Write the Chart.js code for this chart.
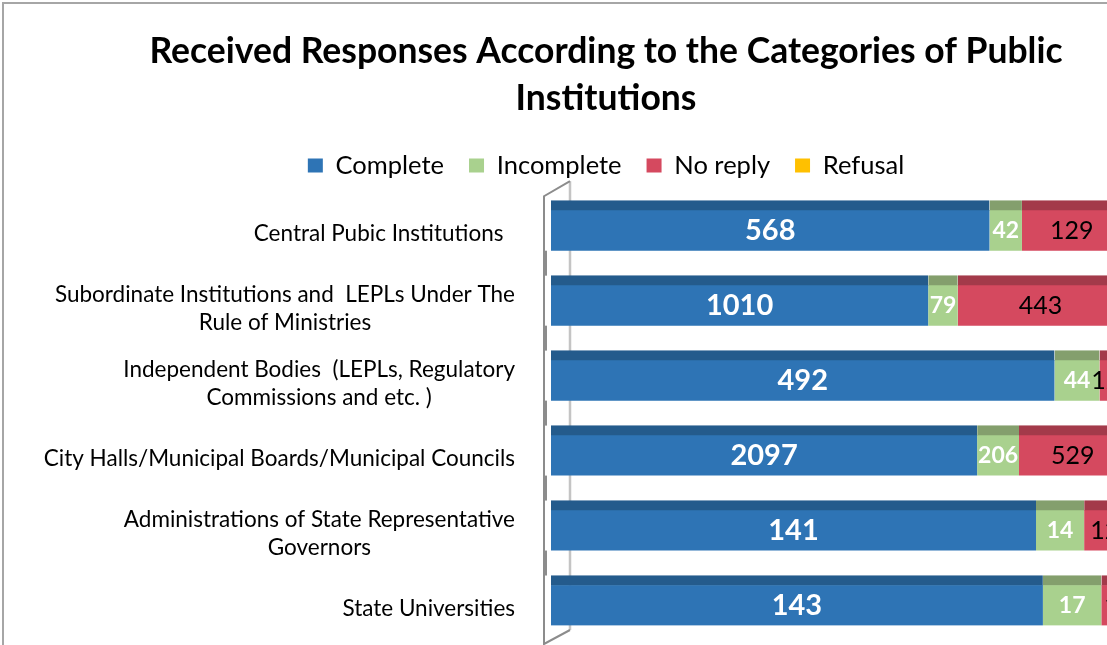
<!DOCTYPE html>
<html>
<head>
<meta charset="utf-8">
<script src="https://cdn.jsdelivr.net/npm/chart.js@4.4.0/dist/chart.umd.min.js"></script>
<style>
  body { margin: 0; overflow: hidden; background: #fff; }
  #box { position: absolute; left: 2px; top: 2px; width: 1225px; height: 700px;
         border: 2px solid #a6a6a6; box-sizing: border-box; background: #fff; }
</style>
</head>
<body>
<div id="box"><canvas id="chart"></canvas></div>
<script>
"use strict";
// categories (each entry = lines of the label)
var categories = [
  ["Central Pubic Institutions  "],
  ["Subordinate Institutions and  LEPLs Under The", "Rule of Ministries"],
  ["Independent Bodies  (LEPLs, Regulatory", "Commissions and etc. )"],
  ["City Halls/Municipal Boards/Municipal Councils"],
  ["Administrations of State Representative", "Governors"],
  ["State Universities"]
];
var seriesNames = ["Complete", "Incomplete", "No reply", "Refusal"];
var complete = [568, 1010, 492, 2097, 141, 143];
var incomplete = [42, 79, 44, 206, 14, 17];
// right part of the chart is cut off in the picture -> estimated
var noReply = [129, 443, 12, 529, 12, 10];
var refusal = [112, 227, 94, 401, 24, 21];

var faceColors = ["#2e74b5", "#a9d18e", "#d5495f", "#ffc000"];
var topColors = ["#245b8c", "#849f6d", "#a33a4a", "#c79500"];

var series = [complete, incomplete, noReply, refusal];
var totals = categories.map(function (c, i) {
  return complete[i] + incomplete[i] + noReply[i] + refusal[i];
});

var datasets = series.map(function (vals, s) {
  return {
    label: seriesNames[s],
    data: vals.map(function (v, i) { return v / totals[i] * 100; }),
    raw: vals,
    backgroundColor: faceColors[s],
    borderColor: topColors[s],
    borderWidth: { top: 10, right: 0, bottom: 0, left: 0 },
    borderSkipped: false,
    barThickness: 50
  };
});

var labelFonts = [
  { font: "bold 29px Lato", color: "#fff" },
  { font: "bold 23px Lato", color: "#fff" },
  { font: "25px Lato", color: "#000" },
  { font: "25px Lato", color: "#000" }
];

// 3d wall lines of the category axis + value labels + category labels
var wallPlugin = {
  id: "wall",
  beforeDatasetsDraw: function (chart) {
    var ctx = chart.ctx, a = chart.chartArea, y = chart.scales.y;
    var fx = a.left - 7, bx = a.left + 19;
    ctx.save();
    ctx.strokeStyle = "#c4c4c4";
    ctx.lineWidth = 2.5;
    ctx.beginPath();
    ctx.moveTo(bx, a.top - 7);
    ctx.lineTo(bx, a.bottom - 8);
    ctx.stroke();
    ctx.strokeStyle = "#8c8c8c";
    ctx.lineWidth = 2;
    ctx.beginPath();
    ctx.moveTo(bx, a.top - 7);
    ctx.lineTo(fx, a.top + 8);
    ctx.lineTo(fx, a.bottom + 6);
    ctx.lineTo(bx, a.bottom - 8);
    ctx.stroke();
    ctx.lineWidth = 4;
    for (var i = 0; i < categories.length - 1; i++) {
      var y1 = y.getPixelForValue(i), y2 = y.getPixelForValue(i + 1);
      ctx.beginPath();
      ctx.moveTo(fx + 1, y1 + 25);
      ctx.lineTo(fx + 1, y2 - 25);
      ctx.stroke();
    }
    ctx.restore();
  },
  afterDatasetsDraw: function (chart) {
    var ctx = chart.ctx;
    ctx.save();
    ctx.textAlign = "center";
    ctx.textBaseline = "middle";
    chart.data.datasets.forEach(function (ds, s) {
      var meta = chart.getDatasetMeta(s);
      ctx.font = labelFonts[s].font;
      ctx.fillStyle = labelFonts[s].color;
      meta.data.forEach(function (bar, i) {
        var cx = (bar.x + bar.base) / 2;
        ctx.fillText(String(ds.raw[i]), cx, bar.y + 5);
      });
    });
    // category labels: block right aligned, lines centered
    var y = chart.scales.y, right = chart.chartArea.left - 36;
    ctx.font = "22.5px Lato";
    ctx.fillStyle = "#000";
    categories.forEach(function (lines, i) {
      var w = 0;
      lines.forEach(function (l) { w = Math.max(w, ctx.measureText(l).width); });
      var cy = y.getPixelForValue(i) + 8, lh = 28;
      lines.forEach(function (l, k) {
        ctx.fillText(l, right - w / 2, cy + (k - (lines.length - 1) / 2) * lh);
      });
    });
    ctx.restore();
  }
};

new Chart(document.getElementById("chart"), {
  type: "bar",
  data: {
    labels: categories.map(function (c) { return c.join(" "); }),
    datasets: datasets
  },
  options: {
    indexAxis: "y",
    responsive: true,
    maintainAspectRatio: false,
    animation: false,
    layout: { padding: { left: 0, right: 17, top: 0, bottom: 62 } },
    scales: {
      x: { stacked: true, min: 0, max: 100, display: false },
      y: {
        stacked: true,
        ticks: { display: false },
        grid: { display: false },
        border: { display: false },
        afterFit: function (scale) { scale.width = 547; }
      }
    },
    plugins: {
      title: {
        display: true,
        text: ["Received Responses According to the Categories of Public", "Institutions"],
        color: "#000",
        font: { family: "Lato", size: 35.5, weight: "bold", lineHeight: 1.32 },
        padding: { top: 24, bottom: 6 }
      },
      legend: {
        position: "top",
        labels: {
          color: "#000",
          font: { family: "Lato", size: 25.5 },
          boxWidth: 15,
          boxHeight: 14,
          padding: 25,
          generateLabels: function (chart) {
            var items = Chart.defaults.plugins.legend.labels.generateLabels(chart);
            items.forEach(function (it, i) {
              it.strokeStyle = faceColors[i];
              it.lineWidth = 0;
            });
            return items;
          }
        }
      },
      tooltip: { enabled: false }
    }
  },
  plugins: [wallPlugin]
});
</script>
</body>
</html>
